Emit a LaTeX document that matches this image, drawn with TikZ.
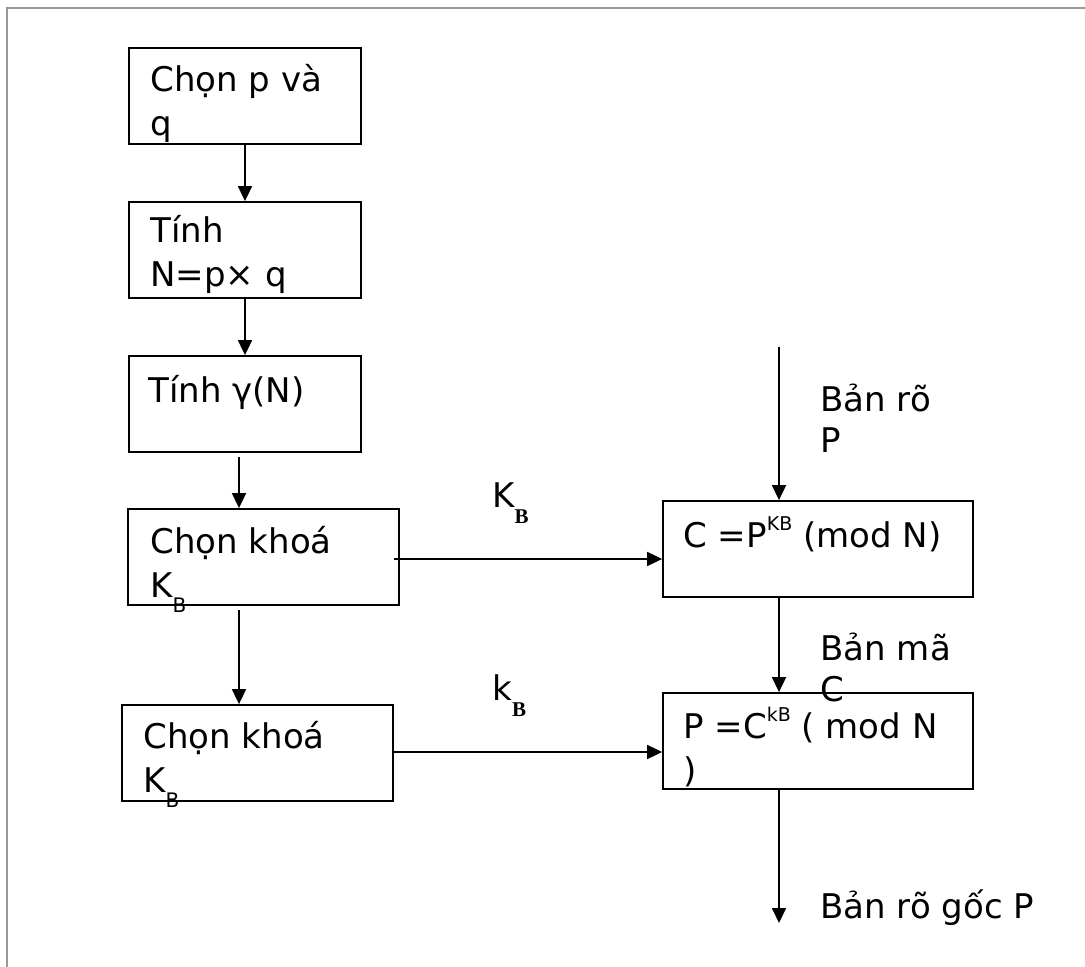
\documentclass[tikz,border=0pt]{standalone}
\usepackage{fontspec}
\setmainfont{DejaVu Sans}
\newfontfamily\keyfont{Liberation Serif}
\usetikzlibrary{arrows.meta, calc, positioning}
\definecolor{framegray}{RGB}{153,153,153}

\newcommand{\boxsub}[1]{\raisebox{-7.5pt}{\fontsize{10}{12}\selectfont #1}}
\newcommand{\keysub}[1]{\raisebox{-8pt}{\fontsize{10.5}{12}\selectfont\keyfont\bfseries #1}}
\newcommand{\expo}[1]{\raisebox{8.5pt}{\fontsize{9.5}{10}\selectfont #1}}

\begin{document}
\begin{tikzpicture}[x=0.5pt, y=-0.5pt, >={Triangle[length=7.5pt, width=7pt]},
    box/.style={draw, line width=0.9pt, minimum height=48pt, inner sep=0pt},
    boxtext/.style={anchor=base west, align=left, inner sep=0pt, font=\fontsize{17}{22}\selectfont},
    labeltext/.style={anchor=base west, align=left, inner sep=0pt, font=\fontsize{17}{20.5}\selectfont},
    arr/.style={->, line width=0.9pt}]
                % Frame
                \useasboundingbox (0,0) rectangle (1085,967);
                \draw[framegray, line width=1pt] (7,967) -- (7,8) -- (1085,8);

                % Key generation (text anchored on its last line)
                \node[box, minimum width=116pt] (pq) at (245,96) {};
                \node[boxtext] (pqtext) at (150,136) {Chọn p và\\q};

                \node[box, minimum width=116pt] (tinh) at (245,250) {};
                \node[boxtext] (tinhtext) at (150,287) {Tính\\N=p× q};

                \node[box, minimum width=116pt] (gamma) at (245,404) {};
                \node[boxtext] (gammatext) at (148,403) {Tính γ(N)};

                \node[box, minimum width=135.5pt] (khoa1) at (263.5,557) {};
                \node[boxtext] (khoa1text) at (150,597) {Chọn khoá\\K\boxsub{B}};

                \node[box, minimum width=135.5pt] (khoa2) at (257.5,753) {};
                \node[boxtext] (khoa2text) at (143,792) {Chọn khoá\\K\boxsub{B}};

                % Encryption and decryption
                \node[box, minimum width=155pt] (enc) at (818,549) {};
                \node[boxtext] (enctext) at (683,547) {C =P\expo{KB} (mod N)};

                \node[box, minimum width=155pt] (dec) at (818,741) {};
                \node[boxtext] (dectext) at (683,782) {P =C\expo{kB} ( mod N\\)};

                % Flow on the left
                \draw[arr] (pq.south) -- (tinh.north);
                \draw[arr] (tinh.south) -- (gamma.north);
                \draw[arr] ($(gamma.south)+(-6,4)$) coordinate (g1) -- (g1 |- khoa1.north);
                \draw[arr] ($(khoa1.south)+(-24.5,4)$) coordinate (k1) -- (k1 |- khoa2.north);

                % Keys
                \draw[arr] ($(khoa1.east)+(-6,2)$) coordinate (h1) -- (h1 -| enc.west);
                \draw[arr] ($(khoa2.east)+(0,-1)$) coordinate (h2) -- (h2 -| dec.west);
                \node[labeltext] (keyenc) at (492,507) {K\keysub{B}};
                \node[labeltext] (keydec) at (492,700) {k\keysub{B}};

                % Flow on the right
                \coordinate (inP) at (779,347);
                \coordinate (outP) at (779,923);
                \draw[arr] (inP) -- (inP |- enc.north);
                \draw[arr] ($(enc.south)+(-39,0)$) coordinate (c1) -- (c1 |- dec.north);
                \draw[arr] (dec.south -| outP) -- (outP);
                \node[labeltext] (inlabel) at (820,452) {Bản rõ\\P};
                \node[labeltext] (midlabel) at (820,701) {Bản mã\\C};
                \node[labeltext] (outlabel) at (820,918) {Bản rõ gốc P};
\end{tikzpicture}
\end{document}
